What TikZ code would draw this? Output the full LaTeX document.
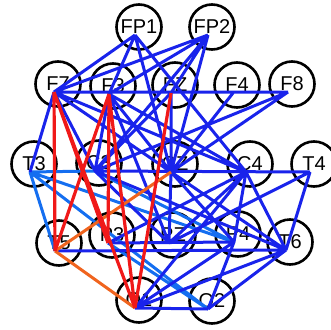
\documentclass[tikz,border=0pt]{standalone}
\usepackage{fontspec}
\setmainfont{Liberation Sans}
\definecolor{edgeblue}{RGB}{25,35,235}
\definecolor{lightblue}{RGB}{20,110,240}
\definecolor{edgered}{RGB}{240,25,25}
\definecolor{edgeorange}{RGB}{240,100,30}
\usetikzlibrary{positioning}

\begin{document}
\begin{tikzpicture}[x=1pt, y=-1pt,
  elec/.style={circle, draw=black, line width=2.6pt, minimum size=45pt,
    inner sep=0pt, font=\fontsize{20}{20}\selectfont},
  bl/.style={draw=edgeblue, line width=3pt},
  lb/.style={draw=lightblue, line width=3pt},
  rd/.style={draw=edgered, line width=3.2pt},
  og/.style={draw=edgeorange, line width=3pt},
]
  \useasboundingbox (0,0) rectangle (331,329);
  % hub points of the electrodes
  \coordinate (FP1) at (135,35);
  \coordinate (FP2) at (208,35);
  \coordinate (F7) at (54,92);
  \coordinate (F3) at (109,94);
  \coordinate (Fz) at (171,93);
  \coordinate (F4) at (233,93);
  \coordinate (F8) at (288,92);
  \coordinate (T3) at (30,172);
  \coordinate (C3) at (95,171);
  \coordinate (Cz) at (171,172);
  \coordinate (C4) at (246,172);
  \coordinate (T4) at (310,172);
  \coordinate (T5) at (55,251);
  \coordinate (P3) at (108,243);
  \coordinate (Pz) at (169,243);
  \coordinate (P4) at (234,242);
  \coordinate (T6) at (286,250);
  \coordinate (O1) at (135,308);
  \coordinate (O2) at (208,309);
  % electrode circles
  \node[elec] (cFP1) at ([shift={(4,-8)}]FP1) {FP1};
  \node[elec] (cFP2) at ([shift={(4,-8)}]FP2) {FP2};
  \node[elec] (cF7) at ([shift={(4,-8)}]F7) {F7};
  \node[elec] (cF3) at ([shift={(4,-8)}]F3) {F3};
  \node[elec] (cFz) at ([shift={(4,-8)}]Fz) {FZ};
  \node[elec] (cF4) at ([shift={(4,-8)}]F4) {F4};
  \node[elec] (cF8) at ([shift={(4,-8)}]F8) {F8};
  \node[elec] (cT3) at ([shift={(4,-8)}]T3) {T3};
  \node[elec] (cC3) at ([shift={(4,-8)}]C3) {C3};
  \node[elec] (cCz) at ([shift={(4,-8)}]Cz) {CZ};
  \node[elec] (cC4) at ([shift={(4,-8)}]C4) {C4};
  \node[elec] (cT4) at ([shift={(4,-8)}]T4) {T4};
  \node[elec] (cT5) at ([shift={(4,-8)}]T5) {T5};
  \node[elec] (cP3) at ([shift={(4,-8)}]P3) {P3};
  \node[elec] (cPz) at ([shift={(4,-8)}]Pz) {PZ};
  \node[elec] (cP4) at ([shift={(4,-8)}]P4) {P4};
  \node[elec] (cT6) at ([shift={(4,-8)}]T6) {T6};
  \node[elec] (cO1) at ([shift={(4,-8)}]O1) {O1};
  \node[elec] (cO2) at ([shift={(4,-8)}]O2) {O2};
  % weak links
  \draw[lb] (T3) -- (T5) (T3) -- (C3) (T3) -- (O2) (T3) -- (P4)
    (C3) -- (P4) (P3) -- (O2);
  % links
  \draw[bl] (FP1) -- (F7) (FP1) -- (F3) (FP1) -- (Cz) (FP1) -- (C4)
    (FP2) -- (F7) (FP2) -- (F3) (FP2) -- (Fz) (FP2) -- (Cz) (FP2) -- (C3)
    (F7) -- (F8) (F7) -- (T3) (F7) -- (C3) (F7) -- (Cz) (F7) -- (C4)
    (F3) -- (C3) (F3) -- (C4) (F3) -- (Cz) (F3) -- (Pz)
    (Fz) -- (Cz) (Fz) -- (C3)
    (F4) -- (Cz) (F8) -- (Cz) (F8) -- (C3)
    (C3) -- (T4) (Cz) -- (Pz) (Cz) -- (T6) (Cz) -- (P4)
    (C3) -- (T6) (C3) -- (Pz)
    (C4) -- (P4) (C4) -- (T6) (C4) -- (Pz) (C4) -- (O1) (C4) -- (P3)
    (T4) -- (T6) (T4) -- (Pz)
    (T5) -- (T6) (P3) -- (P4) (O1) -- (O2)
    (O1) -- (P4) (O1) -- (T6) (O2) -- (T6) (O2) -- (P4);
  % strong links
  \draw[og] (Cz) -- (T5) (T5) -- (O1);
  \draw[rd] (F7) -- (T5) (F7) -- (P3) (F7) -- (O1)
    (F3) -- (T5) (F3) -- (P3) (F3) -- (O1) (Fz) -- (O1);
\end{tikzpicture}
\end{document}
